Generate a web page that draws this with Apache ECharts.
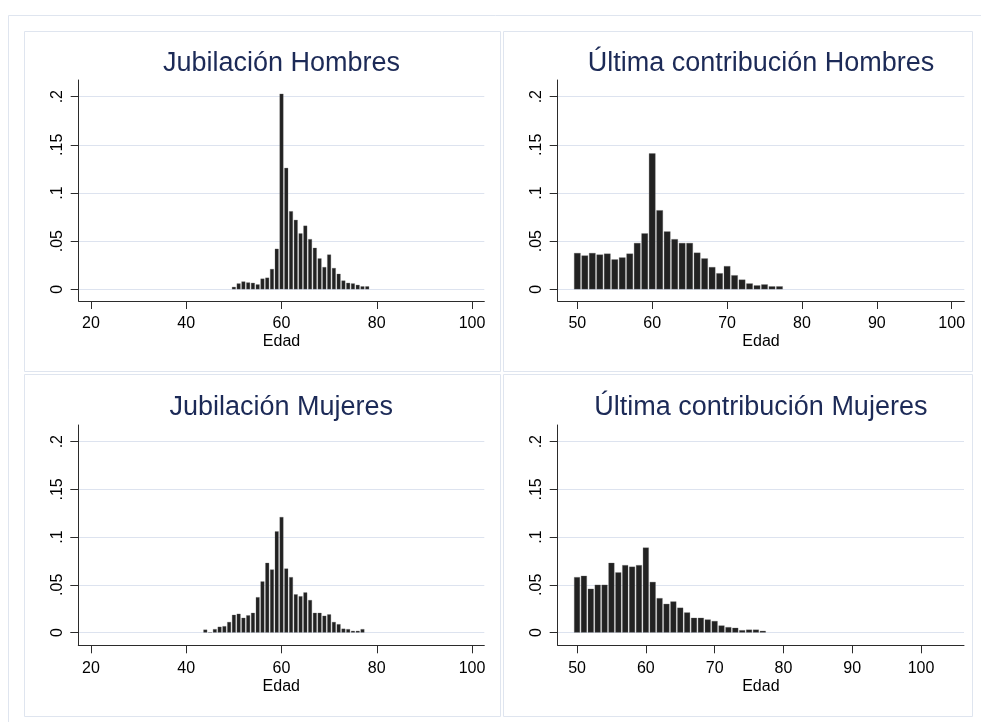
<!DOCTYPE html>
<html>
<head>
<meta charset="utf-8">
<script src="https://cdn.jsdelivr.net/npm/echarts@6/dist/echarts.min.js"></script>
<style>
  html, body { margin: 0; padding: 0; background: #fff; }
  #chart { width: 981px; height: 722px; }
</style>
</head>
<body>
<div id="chart"></div>
<script>
// histogram data (density per one-year bin)
const jubHomAges = [50,51,52,53,54,55,56,57,58,59,60,61,62,63,64,65,66,67,68,69,70,71,72,73,74,75,76,77,78];
const jubHomVals = [0.0024,0.006,0.008,0.007,0.0066,0.005,0.011,0.012,0.021,0.042,0.203,0.126,0.081,0.072,0.058,0.066,0.052,0.043,0.032,0.023,0.036,0.022,0.016,0.009,0.0066,0.006,0.0045,0.003,0.003];

const ultHomAges = [50,51,52,53,54,55,56,57,58,59,60,61,62,63,64,65,66,67,68,69,70,71,72,73,74,75,76,77];
const ultHomVals = [0.0376,0.035,0.0376,0.036,0.037,0.031,0.033,0.037,0.048,0.058,0.141,0.082,0.060,0.052,0.048,0.048,0.038,0.032,0.023,0.0166,0.024,0.0145,0.010,0.006,0.004,0.005,0.003,0.003];

const jubMujAges = [44,45,46,47,48,49,50,51,52,53,54,55,56,57,58,59,60,61,62,63,64,65,66,67,68,69,70,71,72,73,74,75,76,77];
const jubMujVals = [0.003,0,0.0035,0.006,0.0066,0.011,0.0185,0.0196,0.0154,0.018,0.0206,0.037,0.0535,0.073,0.066,0.106,0.121,0.067,0.058,0.040,0.038,0.042,0.034,0.0206,0.0206,0.0175,0.019,0.011,0.0087,0.004,0.0035,0.0017,0.0017,0.0035];

const ultMujAges = [50,51,52,53,54,55,56,57,58,59,60,61,62,63,64,65,66,67,68,69,70,71,72,73,74,75,76,77];
const ultMujVals = [0.058,0.0594,0.0458,0.050,0.050,0.073,0.063,0.0706,0.069,0.0706,0.089,0.053,0.036,0.030,0.0325,0.026,0.021,0.0154,0.0154,0.0136,0.012,0.0073,0.0056,0.0049,0.0024,0.003,0.003,0.0017];

const titles = ['Jubilación Hombres', 'Última contribución Hombres', 'Jubilación Mujeres', 'Última contribución Mujeres'];
const xTicksWide = [20, 40, 60, 80, 100];
const xTicksNarrow = [50, 60, 70, 80, 90, 100];
const yTicks = [0, 0.05, 0.1, 0.15, 0.2];
const xName = 'Edad';

// layout of the four panels (px) and axis ranges
const panels = [
    {left: 78.7, top: 80, width: 405.6, height: 221, xmin: 17.42, xmax: 102.58, ymin: -0.0122, ymax: 0.2173, ticks: xTicksWide, ages: jubHomAges, vals: jubHomVals, titleTop: 50.4},
    {left: 557.7, top: 80, width: 406.6, height: 221, xmin: 47.38, xmax: 101.68, ymin: -0.0122, ymax: 0.2173, ticks: xTicksNarrow, ages: ultHomAges, vals: ultHomVals, titleTop: 50.4},
    {left: 78.3, top: 425, width: 406, height: 220.3, xmin: 17.33, xmax: 102.58, ymin: -0.0134, ymax: 0.2175, ticks: xTicksWide, ages: jubMujAges, vals: jubMujVals, titleTop: 394.4},
    {left: 557.7, top: 425, width: 406.3, height: 220.3, xmin: 47.19, xmax: 106.24, ymin: -0.0134, ymax: 0.2175, ticks: xTicksNarrow, ages: ultMujAges, vals: ultMujVals, titleTop: 394.4}
];

const FONT = '"Liberation Sans", Arial, sans-serif';
const AXIS = '#2b2b2b';
const GRID = '#dde3ef';
const FRAME = '#dfe5ef';

function fmtY(v) {
    if (v === 0) return '0';
    return String(+v.toFixed(2)).replace(/^0/, '');
}

let chart = echarts.init(document.getElementById('chart'), null, {renderer: 'canvas'});

let option = {
    backgroundColor: '#fff',
    animation: false,
    title: [],
    grid: [],
    xAxis: [],
    yAxis: [],
    series: [],
    graphic: [
        {type: 'rect', shape: {x: 8.5, y: 15.5, width: 980, height: 720}, style: {fill: null, stroke: FRAME, lineWidth: 1}, silent: true},
        {type: 'rect', shape: {x: 24.5, y: 31.5, width: 476, height: 340}, style: {fill: null, stroke: FRAME, lineWidth: 1}, silent: true},
        {type: 'rect', shape: {x: 503.5, y: 31.5, width: 469, height: 340}, style: {fill: null, stroke: FRAME, lineWidth: 1}, silent: true},
        {type: 'rect', shape: {x: 24.5, y: 374.5, width: 476, height: 342}, style: {fill: null, stroke: FRAME, lineWidth: 1}, silent: true},
        {type: 'rect', shape: {x: 503.5, y: 374.5, width: 469, height: 342}, style: {fill: null, stroke: FRAME, lineWidth: 1}, silent: true}
    ]
};

panels.forEach((p, i) => {
    option.title.push({
        text: titles[i],
        left: p.left + p.width / 2,
        top: p.titleTop,
        textAlign: 'center',
        padding: 0,
        textStyle: {fontFamily: FONT, fontSize: 27, fontWeight: 'normal', color: '#1c2a57', lineHeight: 27}
    });
    option.grid.push({left: p.left, top: p.top, width: p.width, height: p.height, containLabel: false});
    option.xAxis.push({
        type: 'value',
        gridIndex: i,
        min: p.xmin,
        max: p.xmax,
        name: xName,
        nameLocation: 'middle',
        nameGap: 33,
        nameTextStyle: {fontFamily: FONT, fontSize: 16, color: '#000', lineHeight: 16},
        axisLine: {onZero: false, lineStyle: {color: AXIS, width: 1}},
        axisTick: {show: true, length: 8, customValues: p.ticks, lineStyle: {color: AXIS}},
        axisLabel: {customValues: p.ticks, margin: 15, fontFamily: FONT, fontSize: 16, color: '#000', lineHeight: 16},
        splitLine: {show: false}
    });
    option.yAxis.push({
        type: 'value',
        gridIndex: i,
        min: p.ymin,
        max: p.ymax,
        axisLine: {show: true, onZero: false, lineStyle: {color: AXIS, width: 1}},
        axisTick: {show: true, length: 8, customValues: yTicks, lineStyle: {color: AXIS}},
        axisLabel: {customValues: yTicks, rotate: 90, margin: 13, fontFamily: FONT, fontSize: 16, color: '#000', lineHeight: 16, formatter: fmtY},
        splitLine: {show: true, lineStyle: {color: GRID, width: 1}}
    });
    let pxPerYear = p.width / (p.xmax - p.xmin);
    option.series.push({
        type: 'bar',
        xAxisIndex: i,
        yAxisIndex: i,
        barWidth: pxPerYear - 1,
        data: p.ages.map((a, k) => [a, p.vals[k]]),
        itemStyle: {color: '#222222', borderColor: '#666', borderWidth: 0.3},
        silent: true
    });
});

chart.setOption(option);
</script>
</body>
</html>
